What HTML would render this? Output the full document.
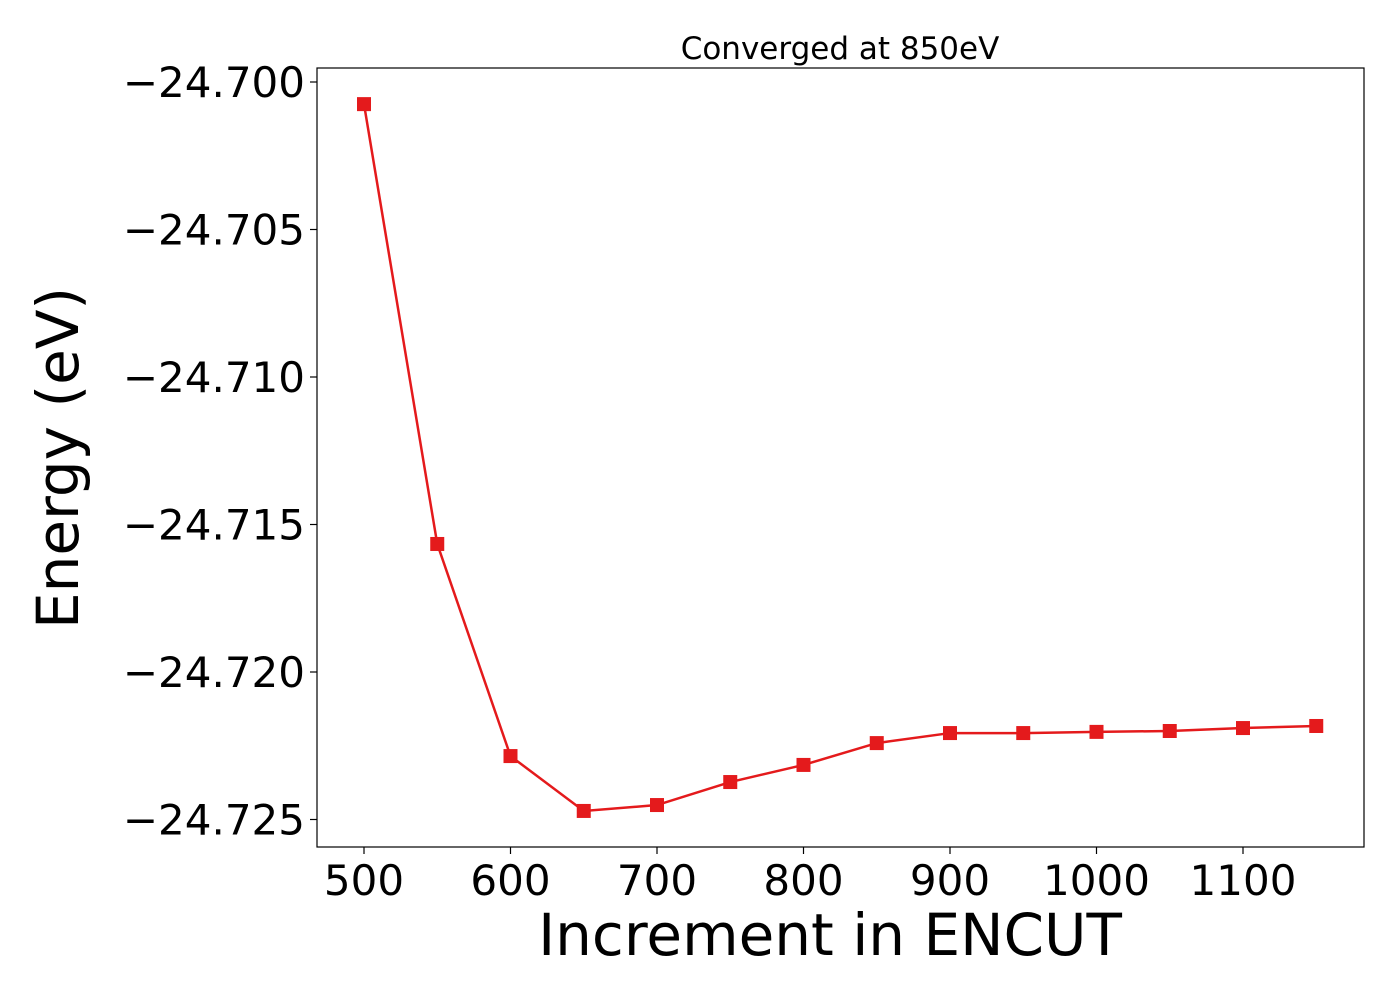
<!DOCTYPE html>
<html><head><meta charset="utf-8"><style>
body{margin:0;background:#fff}
svg text{font-family:"DejaVu Sans","Liberation Sans",sans-serif;fill:#000}
</style></head><body>
<svg width="1400" height="1000" xmlns="http://www.w3.org/2000/svg">
<rect x="0" y="0" width="1400" height="1000" fill="#fff"/>
<g id="g"></g>
</svg>
<script>
const xValues=[500,550,600,650,700,750,800,850,900,950,1000,1050,1100,1150];
const energies=[-24.70075,-24.71566,-24.72285,-24.72471,-24.72451,-24.72373,-24.72315,-24.72241,-24.72207,-24.72207,-24.72203,-24.72200,-24.72190,-24.72183];
const xTicks=[500,600,700,800,900,1000,1100];
const yTicks=[-24.700,-24.705,-24.710,-24.715,-24.720,-24.725];
const yTickLabels=["\u221224.700","\u221224.705","\u221224.710","\u221224.715","\u221224.720","\u221224.725"];
const L=317,R=1364,T=68,B=847;
const sx=v=>364+(v-500)*1.465;
const sy=v=>82+(-24.700-v)/0.005*147.5;
const NS="http://www.w3.org/2000/svg";
const g=document.getElementById('g');
function mk(tag,attrs,parent){const e=document.createElementNS(NS,tag);for(const k in attrs)e.setAttribute(k,attrs[k]);(parent||g).appendChild(e);return e;}
const frame=mk('rect',{x:L,y:T,width:R-L,height:B-T,fill:'none',stroke:'#000','stroke-width':1.2});


xTicks.forEach(v=>{
 const t=mk('line',{x1:sx(v),x2:sx(v),y1:B,y2:B+7,stroke:'#000','stroke-width':1.2});
 
 
 const tx=mk('text',{x:sx(v),y:895,'text-anchor':'middle','font-size':42});
 tx.textContent=v;
 
 
});
yTicks.forEach((v,i)=>{
 const t=mk('line',{x1:L-7,x2:L,y1:sy(v),y2:sy(v),stroke:'#000','stroke-width':1.2});
 
 
 const tx=mk('text',{x:305,y:sy(v)+15,'text-anchor':'end','font-size':42});
 tx.textContent=yTickLabels[i];
 
 
});
const pts=xValues.map((x,i)=>sx(x)+','+sy(energies[i])).join(' ');
const line=mk('polyline',{points:pts,fill:'none',stroke:'#e41a1c','stroke-width':2.5});


xValues.forEach((x,i)=>{
 const m=mk('rect',{x:sx(x)-7,y:sy(energies[i])-7,width:14,height:14,fill:'#e41a1c'});
 
 
});
const title=mk('text',{x:840,y:59,'text-anchor':'middle','font-size':31});
title.textContent='Converged at 850eV';


const xl=mk('text',{x:830,y:955,'text-anchor':'middle','font-size':58});
xl.textContent='Increment in ENCUT';


const yl=mk('text',{x:0,y:0,'text-anchor':'middle','font-size':58,transform:'translate(78,458) rotate(-90)'});
yl.textContent='Energy (eV)';


</script>
</body></html>
